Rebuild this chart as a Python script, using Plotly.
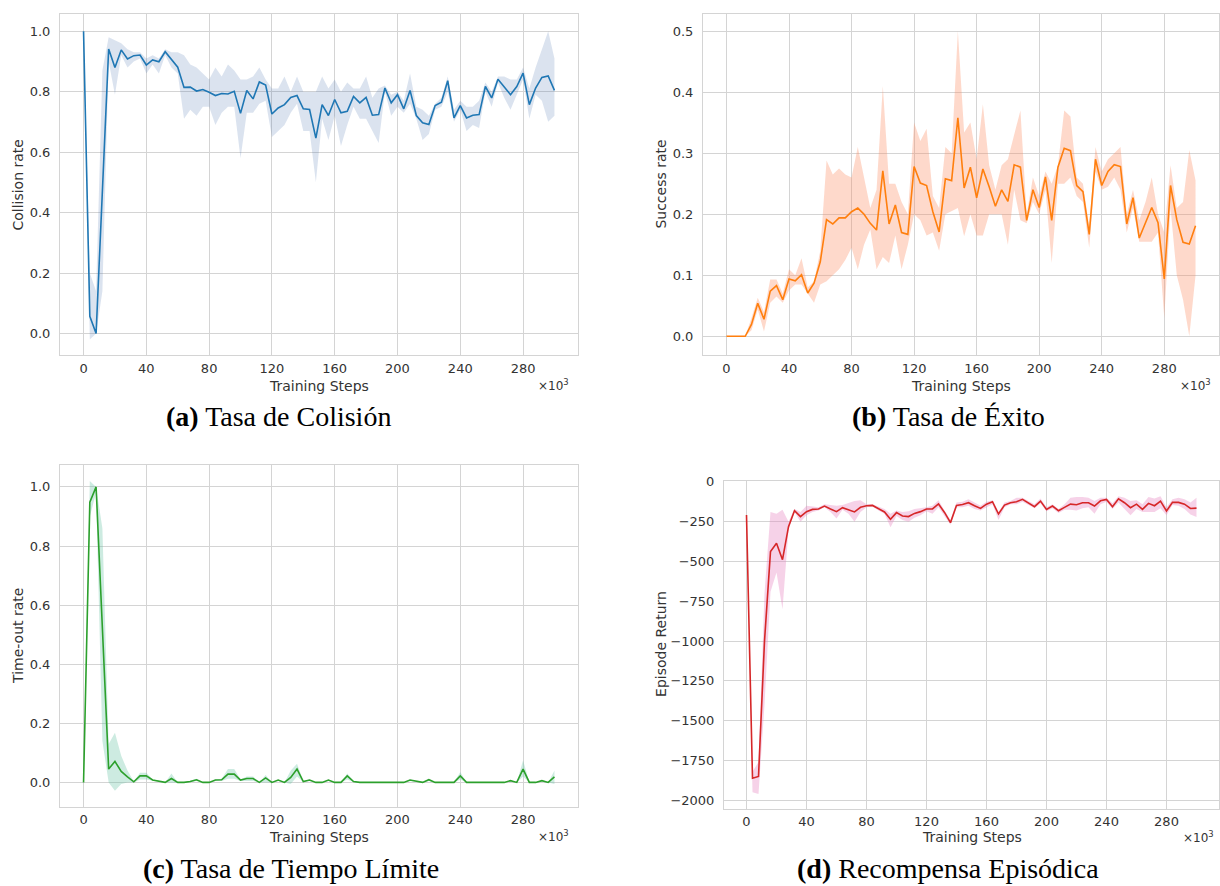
import plotly.graph_objects as go

W, H = 1220, 886

steps = list(range(0, 304, 4))  # training steps (x10^3)

# ---------------- (a) Collision rate ----------------
collision_mean = [1.0, 0.057, 0.0, 0.47, 0.941, 0.88, 0.938, 0.908, 0.919, 0.921,
                  0.888, 0.905, 0.899, 0.932, 0.905, 0.881, 0.814, 0.815, 0.802, 0.807,
                  0.798, 0.787, 0.794, 0.792, 0.801, 0.728, 0.804, 0.776, 0.832, 0.822,
                  0.726, 0.746, 0.757, 0.781, 0.787, 0.743, 0.741, 0.646, 0.757, 0.721,
                  0.774, 0.730, 0.735, 0.784, 0.763, 0.781, 0.722, 0.724, 0.812, 0.763,
                  0.790, 0.743, 0.804, 0.721, 0.697, 0.691, 0.754, 0.765, 0.836, 0.713,
                  0.754, 0.713, 0.722, 0.724, 0.817, 0.779, 0.841, 0.817, 0.790, 0.817,
                  0.861, 0.757, 0.812, 0.847, 0.852, 0.804]
collision_hi = [1.0, 0.2, 0.14, 0.87, 0.98, 0.97, 0.96, 0.94, 0.93, 0.93,
                0.91, 0.92, 0.91, 0.94, 0.93, 0.93, 0.92, 0.89, 0.88, 0.86,
                0.84, 0.88, 0.85, 0.89, 0.87, 0.84, 0.84, 0.85, 0.88, 0.84,
                0.81, 0.81, 0.85, 0.80, 0.85, 0.80, 0.80, 0.80, 0.85, 0.81,
                0.84, 0.80, 0.83, 0.81, 0.81, 0.85, 0.78, 0.81, 0.82, 0.79,
                0.80, 0.77, 0.86, 0.75, 0.74, 0.72, 0.76, 0.78, 0.85, 0.74,
                0.77, 0.75, 0.75, 0.77, 0.83, 0.80, 0.85, 0.85, 0.84, 0.84,
                0.88, 0.81, 0.88, 0.94, 1.00, 0.91]
collision_lo = [1.0, -0.02, 0.0, 0.14, 0.90, 0.79, 0.92, 0.88, 0.90, 0.91,
                0.86, 0.89, 0.86, 0.92, 0.88, 0.86, 0.71, 0.74, 0.72, 0.75,
                0.75, 0.69, 0.73, 0.75, 0.75, 0.58, 0.73, 0.73, 0.76, 0.77,
                0.65, 0.67, 0.69, 0.73, 0.76, 0.67, 0.67, 0.50, 0.71, 0.64,
                0.72, 0.62, 0.69, 0.75, 0.71, 0.71, 0.67, 0.63, 0.80, 0.72,
                0.75, 0.73, 0.76, 0.71, 0.64, 0.66, 0.74, 0.75, 0.80, 0.70,
                0.74, 0.67, 0.69, 0.68, 0.80, 0.75, 0.83, 0.78, 0.74, 0.79,
                0.84, 0.71, 0.79, 0.77, 0.70, 0.72]

# ---------------- (b) Success rate ----------------
success_mean = [0, 0, 0, 0, 0.0195, 0.054, 0.028, 0.074, 0.083, 0.060,
                0.094, 0.091, 0.101, 0.071, 0.087, 0.122, 0.191, 0.184, 0.194, 0.194,
                0.204, 0.210, 0.200, 0.185, 0.174, 0.271, 0.184, 0.215, 0.170, 0.167,
                0.278, 0.251, 0.247, 0.204, 0.171, 0.258, 0.255, 0.358, 0.243, 0.277,
                0.227, 0.274, 0.245, 0.213, 0.240, 0.221, 0.281, 0.277, 0.190, 0.240,
                0.211, 0.261, 0.190, 0.277, 0.308, 0.304, 0.247, 0.237, 0.167, 0.290,
                0.247, 0.270, 0.281, 0.278, 0.184, 0.227, 0.161, 0.186, 0.211, 0.186,
                0.094, 0.247, 0.191, 0.154, 0.151, 0.181]
success_hi = [0, 0, 0, 0, 0.03, 0.063, 0.04, 0.093, 0.093, 0.07,
              0.11, 0.10, 0.128, 0.08, 0.09, 0.14, 0.288, 0.265, 0.275, 0.265,
              0.26, 0.31, 0.26, 0.21, 0.24, 0.41, 0.25, 0.25, 0.22, 0.20,
              0.35, 0.32, 0.34, 0.23, 0.21, 0.31, 0.30, 0.50, 0.334, 0.35,
              0.29, 0.38, 0.28, 0.24, 0.28, 0.29, 0.33, 0.37, 0.20, 0.26,
              0.23, 0.27, 0.25, 0.28, 0.37, 0.36, 0.26, 0.25, 0.18, 0.31,
              0.27, 0.29, 0.30, 0.31, 0.20, 0.24, 0.19, 0.22, 0.26, 0.20,
              0.17, 0.28, 0.21, 0.22, 0.305, 0.255]
success_lo = [0, 0, 0, 0, 0.01, 0.044, 0.008, 0.055, 0.065, 0.055,
              0.075, 0.085, 0.085, 0.07, 0.055, 0.085, 0.09, 0.10, 0.11, 0.125,
              0.145, 0.11, 0.15, 0.175, 0.11, 0.13, 0.12, 0.165, 0.11, 0.15,
              0.20, 0.19, 0.165, 0.17, 0.14, 0.20, 0.205, 0.21, 0.164, 0.20,
              0.165, 0.165, 0.20, 0.20, 0.20, 0.15, 0.24, 0.19, 0.185, 0.22,
              0.20, 0.24, 0.12, 0.25, 0.25, 0.26, 0.23, 0.22, 0.145, 0.27,
              0.24, 0.245, 0.26, 0.24, 0.17, 0.21, 0.155, 0.155, 0.155, 0.17,
              0.03, 0.21, 0.10, 0.06, 0.00, 0.10]

# ---------------- (c) Time-out rate ----------------
timeout_mean = [0, 0.948, 1.0, 0.5, 0.045, 0.071, 0.037, 0.019, 0.002, 0.022,
                0.022, 0.008, 0.004, 0.0, 0.013, 0, 0, 0.003, 0.009, 0,
                0, 0.008, 0.009, 0.028, 0.028, 0.008, 0.013, 0.013, 0, 0.015,
                0, 0.008, 0, 0.017, 0.045, 0.003, 0.008, 0, 0, 0.008,
                0, 0, 0.022, 0.003, 0, 0, 0, 0, 0, 0,
                0, 0, 0.008, 0.003, 0, 0.009, 0, 0, 0, 0,
                0.022, 0, 0, 0, 0, 0, 0, 0, 0.006, 0,
                0.045, 0, 0, 0.006, 0, 0.019]
timeout_hi = [0, 1.02, 1.0, 0.86, 0.13, 0.168, 0.09, 0.04, 0.003, 0.033,
              0.033, 0.01, 0.006, 0, 0.03, 0, 0, 0.005, 0.012, 0,
              0, 0.01, 0.012, 0.045, 0.045, 0.01, 0.02, 0.02, 0, 0.025,
              0, 0.01, 0, 0.04, 0.063, 0.005, 0.01, 0, 0, 0.01,
              0, 0, 0.03, 0.005, 0, 0, 0, 0, 0, 0,
              0, 0, 0.01, 0.005, 0, 0.012, 0, 0, 0, 0,
              0.035, 0, 0, 0, 0, 0, 0, 0, 0.008, 0,
              0.075, 0, 0, 0.008, 0, 0.04]
timeout_lo = [0, 0.90, 0.98, 0.14, 0.0, -0.028, -0.005, 0.0, 0.0, 0.01,
              0.01, 0.005, 0.002, 0, 0, 0, 0, 0.001, 0.005, 0,
              0, 0.005, 0.005, 0.012, 0.012, 0.005, 0.005, 0.005, 0, 0.0,
              0, 0.005, 0, -0.005, 0.02, 0.001, 0.005, 0, 0, 0.005,
              0, 0, 0.01, 0.001, 0, 0, 0, 0, 0, 0,
              0, 0, 0.005, 0.001, 0, 0.005, 0, 0, 0, 0,
              0.01, 0, 0, 0, 0, 0, 0, 0, 0.004, 0,
              0.02, 0, 0, 0.004, 0, -0.005]

# ---------------- (d) Episode return ----------------
return_mean = [-208, -1861, -1850, -1000, -437, -385, -489, -281, -181, -218,
               -187, -173, -170, -152, -170, -187, -162, -177, -189, -160,
               -150, -148, -166, -189, -235, -193, -214, -218, -198, -187,
               -170, -170, -139, -192, -256, -148, -142, -131, -150, -167,
               -140, -125, -202, -146, -131, -125, -110, -131, -156, -121,
               -173, -152, -181, -160, -140, -144, -131, -131, -152, -119,
               -110, -156, -106, -131, -162, -140, -173, -135, -150, -121,
               -183, -129, -129, -140, -167, -165]
return_hi = [-208, -1820, -1760, -700, -190, -200, -175, -250, -170, -190,
             -150, -155, -160, -140, -145, -150, -145, -130, -120, -115,
             -140, -140, -155, -170, -200, -180, -190, -185, -170, -165,
             -160, -150, -115, -180, -240, -130, -125, -110, -130, -150,
             -125, -115, -190, -130, -120, -100, -100, -120, -140, -105,
             -160, -140, -170, -140, -100, -95, -95, -100, -120, -100,
             -100, -135, -90, -100, -120, -115, -140, -95, -105, -90,
             -160, -110, -100, -110, -130, -100]
return_lo = [-208, -1950, -1960, -1400, -690, -570, -800, -300, -190, -250,
             -210, -190, -180, -160, -190, -230, -175, -200, -250, -190,
             -160, -155, -180, -200, -285, -215, -240, -250, -225, -210,
             -185, -200, -160, -215, -270, -160, -160, -150, -170, -180,
             -160, -140, -240, -160, -140, -140, -125, -145, -165, -135,
             -185, -165, -195, -175, -175, -180, -165, -160, -200, -140,
             -125, -170, -130, -170, -210, -170, -190, -190, -190, -165,
             -210, -145, -150, -170, -205, -220]

y_titles = ["Collision rate", "Success rate", "Time-out rate", "Episode Return"]
captions = ["<b>(a)</b> Tasa de Colisión", "<b>(b)</b> Tasa de Éxito",
            "<b>(c)</b> Tasa de Tiempo Límite", "<b>(d)</b> Recompensa Episódica"]
x_title = "Training Steps"
x_ticks = [0, 40, 80, 120, 160, 200, 240, 280]

line_colors = ["#1f77b4", "#ff7f0e", "#2ca02c", "#d62728"]
band_colors = ["rgba(76,114,176,0.2)", "rgba(252,141,98,0.33)",
               "rgba(102,194,165,0.33)", "rgba(231,138,195,0.38)"]

series = [(collision_mean, collision_lo, collision_hi),
          (success_mean, success_lo, success_hi),
          (timeout_mean, timeout_lo, timeout_hi),
          (return_mean, return_lo, return_hi)]

# plot-area boxes in pixels: (left, top, right, bottom)
boxes = [(60, 7, 578, 351), (703, 7, 1219, 351),
         (60, 462, 578, 806), (724, 478, 1219, 808)]
y_ranges = [[-0.072, 1.057], [-0.031, 0.528], [-0.082, 1.073], [-2052, 4]]
y_dticks = [0.2, 0.1, 0.2, 250]
y_formats = [".1f", ".1f", ".1f", "d"]

fig = go.Figure()
GRID = "#d4d4d4"
TICKC = "#333333"
FONT = "DejaVu Sans"

for i, (mean, lo, hi) in enumerate(series):
    xa = "x" if i == 0 else f"x{i+1}"
    ya = "y" if i == 0 else f"y{i+1}"
    fig.add_trace(go.Scatter(x=steps, y=hi, xaxis=xa, yaxis=ya, mode="lines",
                             line=dict(width=0), hoverinfo="skip", showlegend=False))
    fig.add_trace(go.Scatter(x=steps, y=lo, xaxis=xa, yaxis=ya, mode="lines",
                             line=dict(width=0), fill="tonexty", fillcolor=band_colors[i],
                             hoverinfo="skip", showlegend=False))
    fig.add_trace(go.Scatter(x=steps, y=mean, xaxis=xa, yaxis=ya, mode="lines",
                             line=dict(color=line_colors[i], width=1.6), showlegend=False))

    l, t, r, b = boxes[i]
    xkey = "xaxis" if i == 0 else f"xaxis{i+1}"
    ykey = "yaxis" if i == 0 else f"yaxis{i+1}"
    fig.layout[xkey] = dict(domain=[l / W, r / W], anchor=ya, range=[-15, 315],
                            tickvals=x_ticks, showgrid=True, gridcolor=GRID, gridwidth=1,
                            zeroline=False, showline=True, linecolor=GRID, linewidth=1,
                            mirror=True, ticks="outside", ticklen=1,
                            tickcolor="rgba(0,0,0,0)",
                            tickfont=dict(family=FONT, size=13, color=TICKC))
    fig.layout[ykey] = dict(domain=[1 - b / H, 1 - t / H], anchor=xa, range=y_ranges[i],
                            dtick=y_dticks[i], tick0=0, tickformat=y_formats[i],
                            showgrid=True, gridcolor=GRID, gridwidth=1,
                            zeroline=False, showline=True, linecolor=GRID, linewidth=1,
                            mirror=True, ticks="outside", ticklen=6,
                            tickcolor="rgba(0,0,0,0)",
                            tickfont=dict(family=FONT, size=13, color=TICKC))

ann = []
def px(x, y, text, size, family=FONT, angle=0, xanchor="center", yanchor="middle", color=TICKC):
    ann.append(dict(x=x / W, y=1 - y / H, xref="paper", yref="paper", text=text,
                    showarrow=False, textangle=angle, xanchor=xanchor, yanchor=yanchor,
                    font=dict(family=family, size=size, color=color)))

# y titles
px(18, 179, y_titles[0], 14, angle=-90)
px(661, 179, y_titles[1], 14, angle=-90)
px(18, 634, y_titles[2], 14, angle=-90)
px(661, 642, y_titles[3], 14, angle=-90)
# x titles
px(319, 382, x_title, 14)
px(961, 382, x_title, 14)
px(319, 837, x_title, 14)
px(972, 837, x_title, 14)
# multipliers
for (xx, yy) in [(553, 381), (1195, 381), (553, 836), (1198, 837)]:
    px(xx, yy, "×10<sup>3</sup>", 12)
# captions
SERIF = "Liberation Serif"
px(278, 413, captions[0], 28, family=SERIF, color="black")
px(948, 413, captions[1], 28, family=SERIF, color="black")
px(291, 868, captions[2], 28, family=SERIF, color="black")
px(948, 868, captions[3], 28, family=SERIF, color="black")

fig.update_layout(width=W, height=H, margin=dict(l=0, r=0, t=0, b=0),
                  paper_bgcolor="white", plot_bgcolor="white",
                  annotations=ann, showlegend=False)

fig.write_html("out.html")
